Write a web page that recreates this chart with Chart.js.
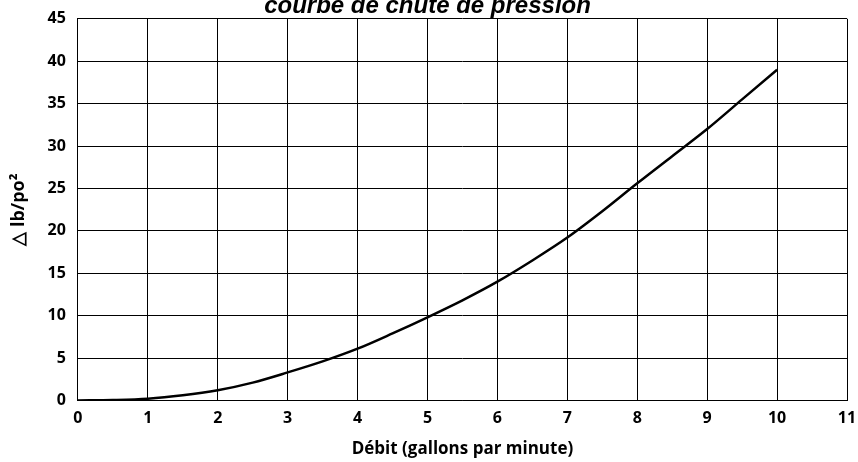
<!DOCTYPE html>
<html>
<head>
<meta charset="utf-8">
<script src="https://cdn.jsdelivr.net/npm/chart.js@4/dist/chart.umd.min.js"></script>
<style>
  html, body { margin: 0; padding: 0; background: #fff; }
  #wrap { width: 858px; height: 462px; position: relative; }
</style>
</head>
<body>
<div id="wrap"><canvas id="myChart"></canvas></div>
<script>
// debit en gallons par minute et chute de pression (lb/po2)
var debit = [0, 0.5, 1, 1.5, 2, 2.5, 3, 3.5, 4, 4.5, 5, 5.5, 6, 6.5, 7, 7.5, 8, 8.5, 9, 9.5, 10];
var chute = [0, 0.05, 0.2, 0.6, 1.2, 2.1, 3.3, 4.6, 6.1, 7.9, 9.8, 11.8, 14.0, 16.5, 19.2, 22.3, 25.6, 28.8, 32.0, 35.5, 39.0];
var xTicks = [0, 1, 2, 3, 4, 5, 6, 7, 8, 9, 10, 11];
var yTicks = [0, 5, 10, 15, 20, 25, 30, 35, 40, 45];

var points = debit.map(function (d, i) { return { x: d, y: chute[i] }; });
var tickFont = { family: "'Open Sans'", size: 16, weight: 'bold' };
var titleFont = { family: "'Open Sans'", size: 17, weight: 'bold' };

var ctx = document.getElementById('myChart').getContext('2d');
var chart = new Chart(ctx, {
  type: 'line',
  data: {
    datasets: [{
      label: 'chute de pression',
      data: points,
      borderColor: '#000',
      borderWidth: 2.5,
      pointRadius: 0,
      cubicInterpolationMode: 'monotone',
      fill: false
    }]
  },
  options: {
    responsive: true,
    maintainAspectRatio: false,
    animation: false,
    layout: { padding: { left: 8, right: 11, top: 0, bottom: 3 } },
    plugins: {
      legend: { display: false },
      tooltip: { enabled: false },
      title: {
        display: true,
        text: 'courbe de chute de pression',
        color: '#000',
        font: { family: "'Liberation Sans'", size: 24, style: 'italic', weight: 'bold' },
        padding: { top: -8, bottom: -2 }
      }
    },
    scales: {
      x: {
        type: 'linear',
        min: 0, max: 11,
        afterBuildTicks: function (axis) { axis.ticks = xTicks.map(function (v) { return { value: v }; }); },
        afterFit: function (axis) { axis.paddingRight = 0; },
        grid: { color: '#000', lineWidth: 1, drawTicks: false },
        border: { color: '#000', width: 1 },
        ticks: { color: '#000', font: tickFont, padding: 8, autoSkip: false, maxRotation: 0 },
        title: {
          display: true,
          text: 'Débit (gallons par minute)',
          color: '#000',
          font: titleFont,
          padding: { top: 3, bottom: 0 }
        }
      },
      y: {
        min: 0, max: 45,
        afterBuildTicks: function (axis) { axis.ticks = yTicks.map(function (v) { return { value: v }; }); },
        afterFit: function (axis) { axis.paddingTop = 0; },
        grid: { color: '#000', lineWidth: 1, drawTicks: false },
        border: { color: '#000', width: 1 },
        ticks: { color: '#000', font: tickFont, padding: 12, autoSkip: false },
        title: {
          display: true,
          text: '△ lb/po²',
          color: '#000',
          font: { family: "'Open Sans'", size: 18, weight: 'bold' },
          padding: { top: 0, bottom: 6 }
        }
      }
    }
  }
});
</script>
</body>
</html>
